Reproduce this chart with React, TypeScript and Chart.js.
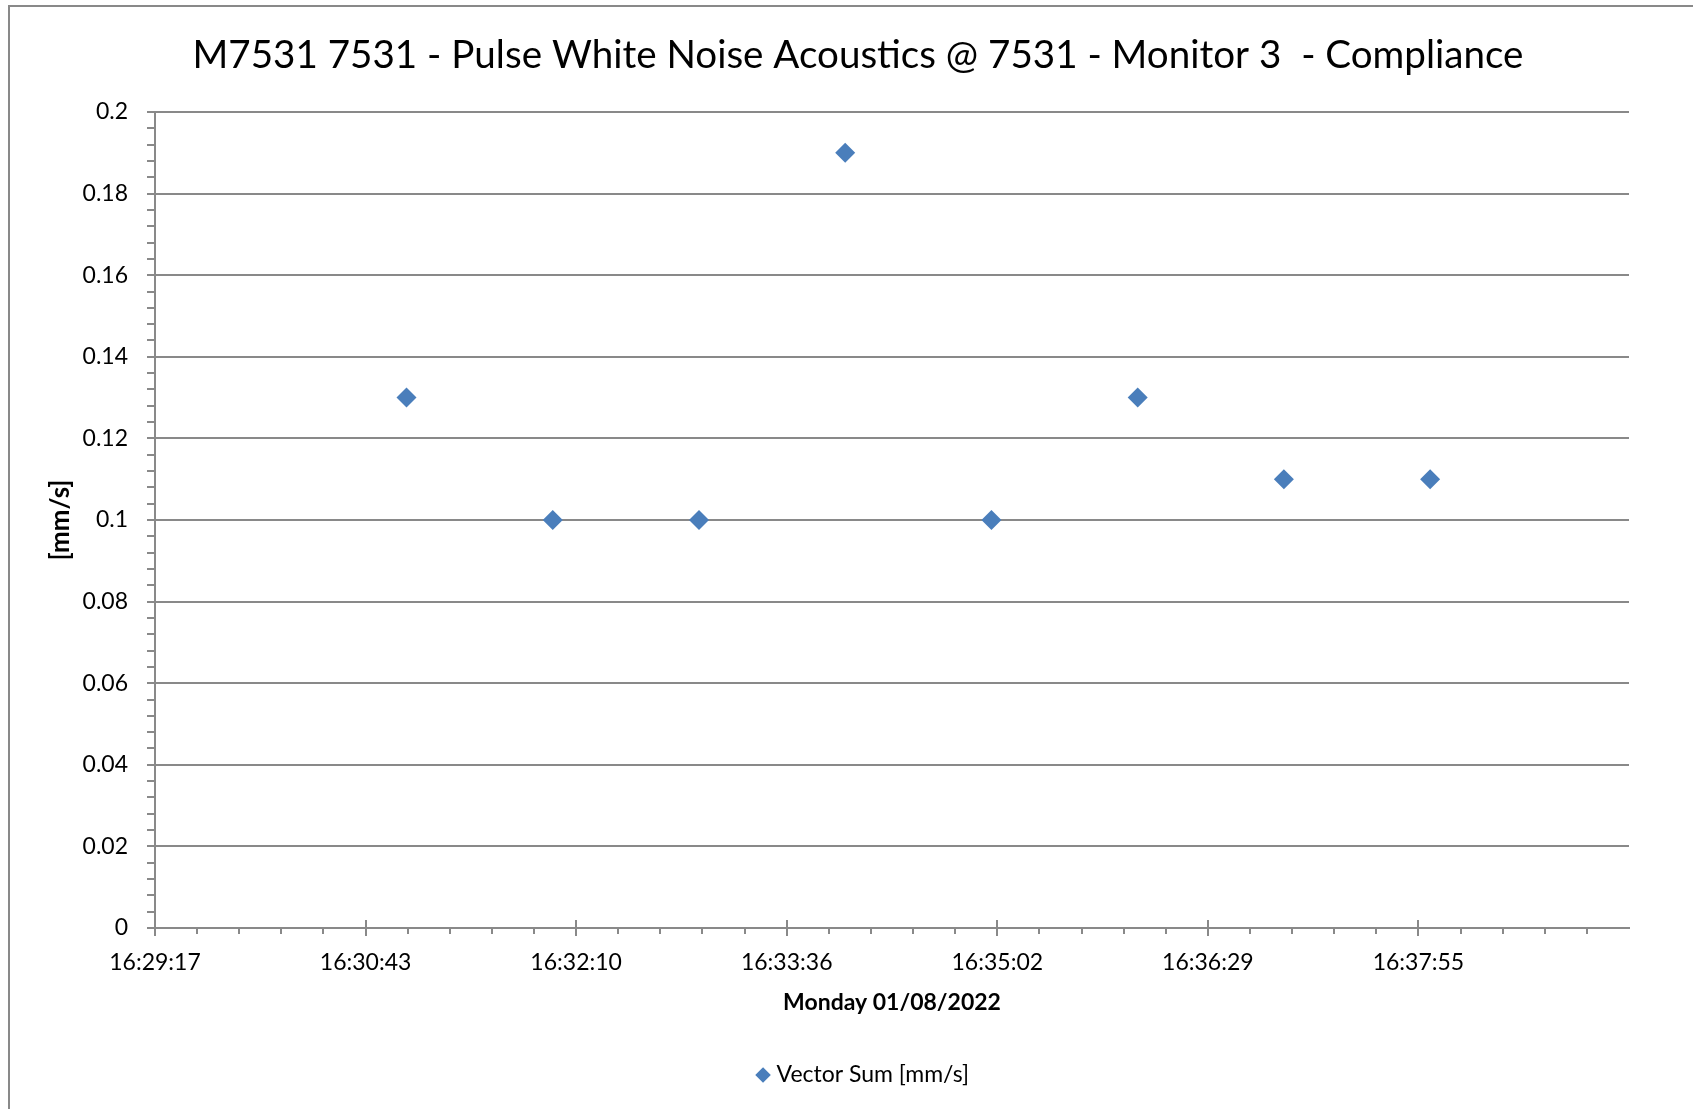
import React, { useEffect, useRef } from 'react';
import { Chart, registerables } from 'chart.js';

Chart.register(...registerables);

const chartTitle = 'M7531 7531 - Pulse White Noise Acoustics @ 7531 - Monitor 3  - Compliance';
const xAxisTitle = 'Monday 01/08/2022';
const yAxisTitle = '[mm/s]';
const seriesLabel = 'Vector Sum [mm/s]';

const pointTimes = ['16:31:00', '16:32:00', '16:33:00', '16:34:00', '16:35:00', '16:36:00', '16:37:00', '16:38:00'];
const pointValues = [0.13, 0.1, 0.1, 0.19, 0.1, 0.13, 0.11, 0.11];

const xTickLabels = ['16:29:17', '16:30:43', '16:32:10', '16:33:36', '16:35:02', '16:36:29', '16:37:55'];
const yTickLabels = ['0', '0.02', '0.04', '0.06', '0.08', '0.1', '0.12', '0.14', '0.16', '0.18', '0.2'];

// axis range in Excel day fractions
const X_MIN_MICRO = 687000; // 0.687 day
const X_MAX_MICRO = 694000; // 0.694 day
const X_MINOR_MICRO = 200; // 0.0002 day
const MINOR_PER_MAJOR = 5;
const Y_MAX = 0.2;
const Y_MINOR_COUNT = 50;

const GRID = '#898989';
const MARKER = '#4A7EBB';

function toDays(t: string): number {
  const [h, m, s] = t.split(':').map(Number);
  return (h * 3600 + m * 60 + s) / 86400;
}

const decorPlugin = {
  id: 'decor',
  beforeDraw(chart: any) {
    const ctx = chart.ctx;
    ctx.save();
    ctx.strokeStyle = GRID;
    ctx.lineWidth = 2;
    ctx.beginPath();
    ctx.moveTo(9, chart.height);
    ctx.lineTo(9, 6);
    ctx.lineTo(chart.width, 6);
    ctx.stroke();
    ctx.restore();
  },
  afterDraw(chart: any) {
    const xs = chart.scales.x;
    const ctx = chart.ctx;
    const y0 = Math.round(xs.top);
    ctx.save();
    ctx.strokeStyle = GRID;
    ctx.lineWidth = 2;
    ctx.beginPath();
    xs.ticks.forEach((t: any, i: number) => {
      const px = Math.round(xs.getPixelForValue(t.value));
      const major = i % MINOR_PER_MAJOR === 0;
      ctx.moveTo(px, major ? y0 - 8 : y0);
      ctx.lineTo(px, y0 + (major ? 8 : 6));
    });
    ctx.stroke();
    ctx.restore();
  },
};

function centerBox(box: any, target: number) {
  if (!box) return;
  const delta = target - (box.left + box.right) / 2;
  box.left += delta;
  box.right += delta;
}

const boxShiftPlugin = {
  id: 'boxShift',
  afterLayout(chart: any) {
    centerBox(chart.legend, 865);
    centerBox(chart.titleBlock, 858);
  },
};

export default function App() {
  const ref = useRef<HTMLCanvasElement | null>(null);

  useEffect(() => {
    if (!ref.current) return;
    Chart.defaults.font.family = 'Lato';
    Chart.defaults.color = '#000';

    const data = pointTimes.map((t, i) => ({ x: toDays(t), y: pointValues[i] }));

    const chart = new Chart(ref.current, {
      type: 'scatter',
      data: {
        datasets: [
          {
            label: seriesLabel,
            data,
            pointStyle: 'rectRot',
            pointRadius: 10,
            pointHoverRadius: 10,
            pointBackgroundColor: MARKER,
            pointBorderColor: MARKER,
            pointBorderWidth: 0,
            backgroundColor: MARKER,
            borderColor: MARKER,
            showLine: false,
          },
        ],
      },
      options: {
        responsive: false,
        animation: false,
        events: [],
        layout: { padding: { left: 0, right: 64, top: 0, bottom: 12.5 } },
        plugins: {
          title: {
            display: true,
            text: chartTitle,
            font: { family: 'Lato', size: 38.6, weight: 'normal' },
            color: '#000',
            padding: { top: 32, bottom: 33.68 },
          },
          legend: {
            display: true,
            position: 'bottom',
            labels: {
              usePointStyle: true,
              pointStyle: 'rectRot',
              boxWidth: 4,
              boxHeight: 11,
              padding: 10,
              color: '#000',
              font: { family: 'Lato', size: 23 },
            },
          },
          tooltip: { enabled: false },
        },
        scales: {
          x: {
            type: 'linear',
            min: X_MIN_MICRO / 1e6,
            max: X_MAX_MICRO / 1e6,
            afterBuildTicks(scale: any) {
              const ticks = [];
              for (let v = X_MIN_MICRO; v < X_MAX_MICRO; v += X_MINOR_MICRO) {
                ticks.push({ value: v / 1e6 });
              }
              scale.ticks = ticks;
            },
            afterFit(scale: any) {
              scale.height = 125.5;
            },
            ticks: {
              autoSkip: false,
              maxRotation: 0,
              minRotation: 0,
              padding: 13,
              color: '#000',
              font: { family: 'Lato', size: 23 },
              callback: (_v: any, i: number) =>
                i % MINOR_PER_MAJOR === 0 ? xTickLabels[i / MINOR_PER_MAJOR] ?? '' : '',
            },
            grid: {
              display: true,
              drawOnChartArea: false,
              drawTicks: true,
              tickLength: 8,
              tickColor: 'rgba(0,0,0,0)',
              color: 'rgba(0,0,0,0)',
            },
            border: { display: true, color: GRID, width: 2 },
            title: {
              display: true,
              text: xAxisTitle,
              color: '#000',
              font: { family: 'Lato', size: 23, weight: 'bold' },
              padding: { top: 0, bottom: 37 },
            },
          },
          y: {
            type: 'linear',
            min: 0,
            max: Y_MAX,
            afterBuildTicks(scale: any) {
              const ticks = [];
              for (let i = 0; i <= Y_MINOR_COUNT; i++) {
                ticks.push({ value: (i * Y_MAX) / Y_MINOR_COUNT });
              }
              scale.ticks = ticks;
            },
            afterFit(scale: any) {
              scale.width = 155;
            },
            ticks: {
              autoSkip: false,
              padding: 19,
              color: '#000',
              font: { family: 'Lato', size: 23 },
              callback: (_v: any, i: number) =>
                i % MINOR_PER_MAJOR === 0 ? yTickLabels[i / MINOR_PER_MAJOR] ?? '' : '',
            },
            grid: {
              display: true,
              drawOnChartArea: true,
              drawTicks: true,
              tickLength: 8,
              lineWidth: 2,
              color: (c: any) => (c.index % MINOR_PER_MAJOR === 0 ? GRID : 'rgba(0,0,0,0)'),
              tickColor: GRID,
            },
            border: { display: true, color: GRID, width: 2 },
            title: {
              display: true,
              text: yAxisTitle,
              color: '#000',
              font: { family: 'Lato', size: 26, weight: 'bold' },
              padding: { top: 45, bottom: 0 },
            },
          },
        },
      },
      plugins: [decorPlugin, boxShiftPlugin],
    } as any);

    return () => chart.destroy();
  }, []);

  return (
    <div style={{ position: 'absolute', left: 0, top: 0, width: 1693, height: 1109, background: '#fff' }}>
      <canvas ref={ref} width={1693} height={1109} style={{ display: 'block', width: 1693, height: 1109 }} />
    </div>
  );
}
